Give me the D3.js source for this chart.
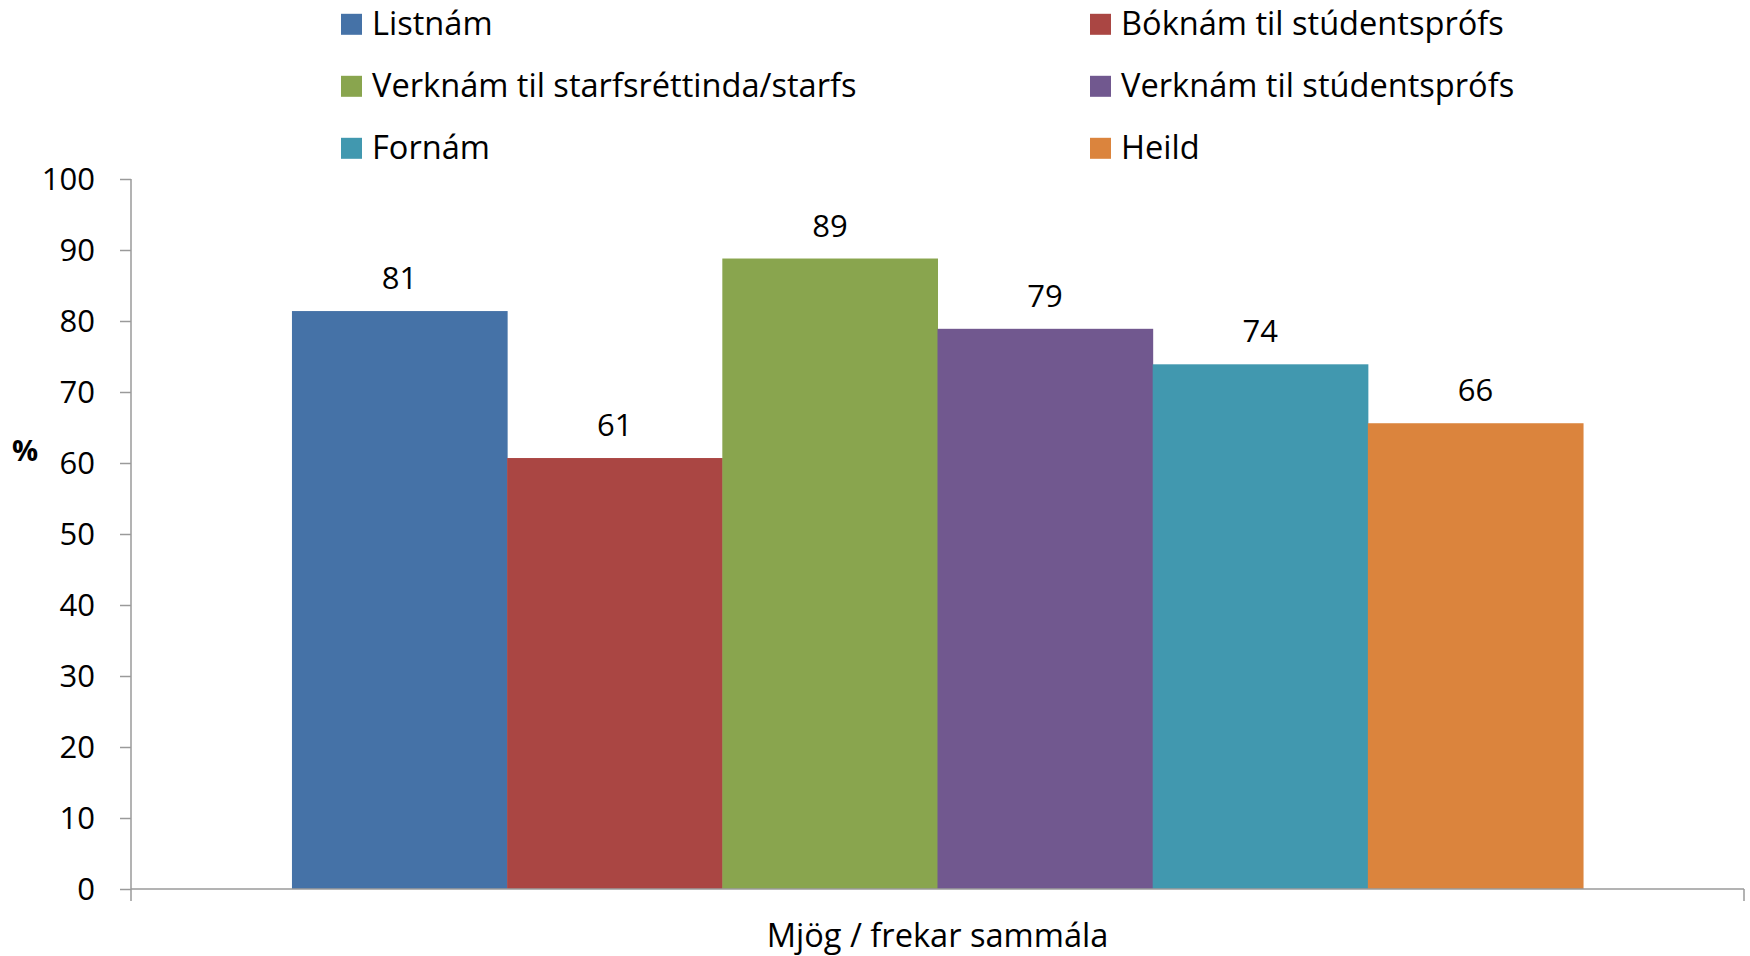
<!DOCTYPE html>
<html>
<head>
<meta charset="utf-8">
<script src="https://cdn.jsdelivr.net/npm/d3@7"></script>
<style>
  html, body { margin: 0; padding: 0; background: #fff; }
  svg { display: block; }
  text { font-family: "Open Sans", sans-serif; fill: #000; }
</style>
</head>
<body>
<svg id="chart" width="1750" height="956"></svg>
<script>
const categories = ["Mjög / frekar sammála"];
const seriesNames = [
  "Listnám",
  "Bóknám til stúdentsprófs",
  "Verknám til starfsréttinda/starfs",
  "Verknám til stúdentsprófs",
  "Fornám",
  "Heild"
];
const values = [81.4, 60.7, 88.8, 78.9, 73.9, 65.6];
const colors = ["#4572A7", "#AA4643", "#89A54E", "#71588F", "#4198AF", "#DB843D"];
const yTicks = [0, 10, 20, 30, 40, 50, 60, 70, 80, 90, 100];
const yLabel = "%";

(function () {
const svg = d3.select("#chart");
const plotLeft = 131, plotRight = 1744, plotTop = 179, plotBottom = 889;
const fontSize = 31;
const textSize = 32.6;
const axisColor = "#9a9a9a";

const x0 = d3.scaleBand().domain(categories).range([plotLeft, plotRight]).padding(0);
const x1 = d3.scaleBand().domain(seriesNames).range([0, x0.bandwidth()])
  .paddingInner(0).paddingOuter(0.748);
const y = d3.scaleLinear().domain([0, 100]).range([plotBottom, plotTop]);
const color = d3.scaleOrdinal().domain(seriesNames).range(colors);

const rows = seriesNames.map((s, i) => ({ cat: categories[0], name: s, value: values[i] }));

// bars
const g = svg.append("g");
g.selectAll("rect.bar").data(rows).join("rect")
  .attr("class", "bar")
  .attr("x", d => x0(d.cat) + x1(d.name))
  .attr("y", d => y(d.value))
  .attr("width", x1.bandwidth() + 0.5)
  .attr("height", d => y(0) - y(d.value))
  .attr("fill", d => color(d.name));

// value labels
g.selectAll("text.val").data(rows).join("text")
  .attr("class", "val")
  .attr("x", d => x0(d.cat) + x1(d.name) + x1.bandwidth() / 2)
  .attr("y", d => y(d.value) - 22)
  .attr("text-anchor", "middle")
  .style("font-size", fontSize + "px")
  .text(d => d3.format(".0f")(d.value));

// y axis
const yAxis = svg.append("g")
  .attr("transform", `translate(${plotLeft},0)`)
  .call(d3.axisLeft(y).tickValues(yTicks).tickSize(11).tickPadding(25).tickFormat(d3.format("d")));
yAxis.select(".domain").remove();
yAxis.selectAll(".tick line").attr("stroke", axisColor).attr("stroke-width", 1.5);
yAxis.selectAll(".tick text").style("font-size", fontSize + "px")
  .style("font-family", "'Open Sans', sans-serif").attr("fill", "#000").attr("dy", "0.34em");
yAxis.append("line").attr("x1", 0).attr("x2", 0).attr("y1", y(100)).attr("y2", y(0))
  .attr("stroke", axisColor).attr("stroke-width", 1.5);

// x axis
const xAxis = svg.append("g")
  .attr("transform", `translate(0,${plotBottom})`);
xAxis.append("line").attr("x1", plotLeft).attr("x2", plotRight).attr("y1", 0).attr("y2", 0)
  .attr("stroke", axisColor).attr("stroke-width", 1.5);
const bounds = [x0(categories[0]), x0(categories[0]) + x0.bandwidth()];
xAxis.selectAll("line.tk").data(bounds).join("line")
  .attr("class", "tk")
  .attr("x1", d => d).attr("x2", d => d).attr("y1", 0).attr("y2", 12)
  .attr("stroke", axisColor).attr("stroke-width", 1.5);
xAxis.selectAll("text.cat").data(categories).join("text")
  .attr("class", "cat")
  .attr("x", d => x0(d) + x0.bandwidth() / 2)
  .attr("y", 58)
  .attr("text-anchor", "middle")
  .style("font-size", textSize + "px")
  .text(d => d);

// y label
svg.append("text")
  .attr("x", 25).attr("y", 461)
  .attr("text-anchor", "middle")
  .style("font-size", "29px").style("font-weight", "bold")
  .text(yLabel);

// legend
const legendCols = [341, 1090];
const legendRows = [24.3, 86.3, 148.3];
const leg = svg.append("g");
const items = leg.selectAll("g.item").data(seriesNames).join("g")
  .attr("class", "item")
  .attr("transform", (d, i) => `translate(${legendCols[i % 2]},${legendRows[Math.floor(i / 2)]})`);
items.append("rect").attr("x", 0).attr("y", -10.5).attr("width", 21).attr("height", 21)
  .attr("fill", d => color(d));
items.append("text").attr("x", 31).attr("y", 11)
  .style("font-size", textSize + "px")
  .text(d => d);
})();
</script>
</body>
</html>
